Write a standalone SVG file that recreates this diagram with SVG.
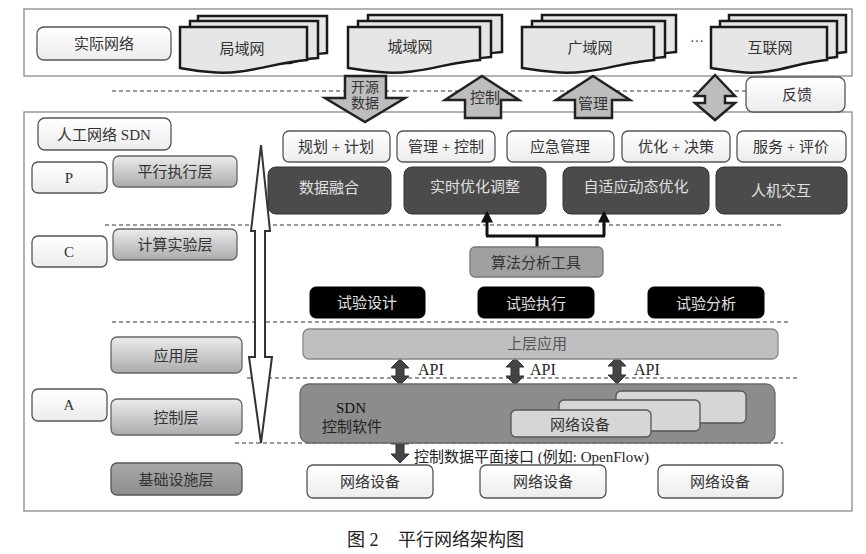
<svg xmlns="http://www.w3.org/2000/svg" width="866" height="554" viewBox="0 0 866 554">
<defs>
<linearGradient id="gl" x1="0" y1="0" x2="0" y2="1"><stop offset="0" stop-color="#ececec"/><stop offset="1" stop-color="#ababab"/></linearGradient>
<linearGradient id="gd" x1="0" y1="0" x2="0" y2="1"><stop offset="0" stop-color="#a8a8a8"/><stop offset="1" stop-color="#8e8e8e"/></linearGradient>
<linearGradient id="gw" x1="0" y1="0" x2="0" y2="1"><stop offset="0" stop-color="#ffffff"/><stop offset="1" stop-color="#ececec"/></linearGradient>
<marker id="ah" viewBox="0 0 10 10" refX="8" refY="5" markerWidth="4" markerHeight="4" orient="auto"><path d="M0 0L10 5L0 10Z" fill="#111"/></marker>
</defs>
<style>
text{font-family:"Liberation Serif","Noto Sans CJK SC",serif;font-size:15px;fill:#333;text-anchor:middle}
.frame{fill:#fff;stroke:#8a8a8a;stroke-width:1.3}
.wb{fill:url(#gw);stroke:#555;stroke-width:1.3}
.lb{fill:url(#gl);stroke:#666;stroke-width:1.3}
.db{fill:#4b4b4b;stroke:#333;stroke-width:1}
.db2{fill:#000;stroke:#000}
.dt{fill:#e0e0e0}
.doc{fill:#e6e6e6;stroke:#1a1a1a;stroke-width:2.5}
.dash{stroke:#333;stroke-width:1;stroke-dasharray:4 3;fill:none}
.garr{fill:#bdbdbd;stroke:#222;stroke-width:2.5}
.api{fill:#444;stroke:#333;stroke-width:1}
.nd{fill:#d6d6d6;stroke:#555;stroke-width:1.3}
.st{text-anchor:start}
</style>
<rect width="866" height="554" fill="#fff"/>

<!-- frames -->
<rect class="frame" x="24" y="9" width="828" height="67"/>
<rect class="frame" x="24" y="112" width="828" height="399"/>

<!-- dashed separators -->
<g id="separators">
<line class="dash" x1="112" y1="91" x2="746" y2="91"/>
<line class="dash" x1="105" y1="225" x2="783" y2="225"/>
<line class="dash" x1="112" y1="322" x2="790" y2="322"/>
<line class="dash" x1="247" y1="378" x2="797" y2="378"/>
<line class="dash" x1="235" y1="443" x2="783" y2="443"/>
</g>

<!-- real network -->
<g id="real-network"><rect class="wb" x="37" y="27" width="134" height="33" rx="7"/><text x="104" y="49">实际网络</text></g>

<g id="lan">
<path class="doc" d="M198 16H327V53C315 54 305 56 300 58H198Z"/>
<path class="doc" d="M190 21H318V58C306 59 296 61 290 63H190Z"/>
<path class="doc" d="M180 27H307V60C275 62 245 76 210 72C195 71 187 69 180 68Z"/>
<text x="242" y="54">局域网</text>
</g>
<g id="man">
<path class="doc" d="M368 15H502V52C490 53 480 55 475 57H368Z"/>
<path class="doc" d="M358 21H491V57C479 58 469 60 464 62H358Z"/>
<path class="doc" d="M348 27H480V60C447 62 416 76 380 72C364 71 355 69 348 68Z"/>
<text x="410" y="52">城域网</text>
</g>
<g id="wan">
<path class="doc" d="M542 15H676V52C664 53 654 55 649 57H542Z"/>
<path class="doc" d="M532 21H665V57C653 58 643 60 638 62H532Z"/>
<path class="doc" d="M522 27H654V60C621 62 590 76 554 72C538 71 529 69 522 68Z"/>
<text x="590" y="53">广域网</text>
</g>
<text x="697" y="42" style="font-size:14px">…</text>
<g id="internet">
<path class="doc" d="M729 15H846V52C835 53 826 55 822 57H729Z"/>
<path class="doc" d="M720 21H837V57C826 58 817 60 813 62H720Z"/>
<path class="doc" d="M711 27H827V60C798 62 771 76 740 72C726 71 718 69 711 68Z"/>
<text x="770" y="53">互联网</text>
</g>

<!-- interface arrows -->
<g id="arrow-open-data">
<path class="garr" d="M345 76H386V98H405L365 122L325 98H345Z"/>
<text x="365" y="92" style="font-size:14px">开源</text>
<text x="365" y="108" style="font-size:14px">数据</text>
</g>
<g id="arrow-control">
<path class="garr" d="M482 76L519 100H501V118H465V100H445Z"/>
<text x="485" y="103">控制</text>
</g>
<g id="arrow-manage">
<path class="garr" d="M593 76L630 100H612V118H575V100H556Z"/>
<text x="593" y="109">管理</text>
</g>
<g id="arrow-feedback">
<path class="garr" d="M715 75L735 96H725V103H735L715 120L695 103H705V96H695Z"/>
</g>
<g id="feedback"><rect class="wb" x="746" y="77" width="99" height="35" rx="7"/><text x="797" y="100">反馈</text></g>

<!-- left labels -->
<g id="sdn-label"><rect class="wb" x="38" y="118" width="133" height="32" rx="7"/><text x="104" y="140">人工网络 SDN</text></g>
<g id="P"><rect class="wb" x="32" y="162" width="75" height="31" rx="6"/><text x="69" y="183">P</text></g>
<g id="C"><rect class="wb" x="32" y="236" width="75" height="31" rx="6"/><text x="69" y="257">C</text></g>
<g id="A"><rect class="wb" x="32" y="389" width="75" height="32" rx="6"/><text x="69" y="410">A</text></g>
<g id="layer-p"><rect class="lb" x="113" y="156" width="124" height="31" rx="6"/><text x="175" y="177">平行执行层</text></g>
<g id="layer-c"><rect class="lb" x="113" y="229" width="124" height="31" rx="6"/><text x="175" y="250">计算实验层</text></g>
<g id="layer-app"><rect class="lb" x="111" y="337" width="131" height="36" rx="6"/><text x="176" y="361">应用层</text></g>
<g id="layer-ctrl"><rect class="lb" x="111" y="399" width="131" height="36" rx="6"/><text x="176" y="423">控制层</text></g>
<g id="layer-infra"><rect x="111" y="463" width="131" height="32" rx="6" fill="url(#gd)" stroke="#555" stroke-width="1.3"/><text x="176" y="485">基础设施层</text></g>

<!-- big hollow double arrow -->
<g id="big-arrow"><path d="M261 145L270 231H265V357H272L261 443L249 357H255V231H251Z" fill="#fff" stroke="#333" stroke-width="2"/></g>

<!-- top function boxes -->
<g id="f1"><rect class="wb" x="283" y="131" width="107" height="31" rx="6"/><text x="336" y="152" xml:space="preserve">规划 + 计划</text></g>
<g id="f2"><rect class="wb" x="397" y="131" width="98" height="31" rx="6"/><text x="446" y="152">管理 + 控制</text></g>
<g id="f3"><rect class="wb" x="507" y="131" width="107" height="31" rx="6"/><text x="560" y="152">应急管理</text></g>
<g id="f4"><rect class="wb" x="622" y="131" width="108" height="31" rx="6"/><text x="676" y="152">优化 + 决策</text></g>
<g id="f5"><rect class="wb" x="737" y="131" width="109" height="31" rx="6"/><text x="791" y="152">服务 + 评价</text></g>

<!-- dark boxes -->
<g id="d1"><rect class="db" x="268" y="167" width="123" height="47" rx="8"/><text class="dt" x="329" y="193">数据融合</text></g>
<g id="d2"><rect class="db" x="404" y="167" width="142" height="47" rx="8"/><text class="dt" x="475" y="192">实时优化调整</text></g>
<g id="d3"><rect class="db" x="563" y="167" width="146" height="47" rx="8"/><text class="dt" x="636" y="192">自适应动态优化</text></g>
<g id="d4"><rect class="db" x="716" y="167" width="131" height="47" rx="8"/><text class="dt" x="781" y="196">人机交互</text></g>

<!-- connectors -->
<g id="connectors">
<path d="M537 248V236M486 236H605" stroke="#111" stroke-width="3" fill="none"/>
<path d="M487 236V213" stroke="#111" stroke-width="3" fill="none" marker-end="url(#ah)"/>
<path d="M604 236V213" stroke="#111" stroke-width="3" fill="none" marker-end="url(#ah)"/>
<path class="api" d="M400 359L409 368H404V376H409L400 385L391 376H396V368H391Z"/>
<path class="api" d="M515 358L524 367H519V376H524L515 385L506 376H511V367H506Z"/>
<path class="api" d="M617 357L626 366H621V375H626L617 384L608 375H613V366H608Z"/>
<path class="api" d="M400 435L409 444H404V454H409L400 463L391 454H396V444H391Z"/>
</g>
<g id="algo"><rect x="470" y="247" width="133" height="30" rx="5" fill="#a0a0a0" stroke="#777" stroke-width="1.3"/><text x="536" y="268">算法分析工具</text></g>

<!-- experiment boxes -->
<g id="e1"><rect class="db2" x="310" y="287" width="115" height="31" rx="6"/><text class="dt" x="367" y="308">试验设计</text></g>
<g id="e2"><rect class="db2" x="478" y="287" width="116" height="31" rx="6"/><text class="dt" x="536" y="309">试验执行</text></g>
<g id="e3"><rect class="db2" x="648" y="287" width="116" height="31" rx="6"/><text class="dt" x="706" y="309">试验分析</text></g>

<!-- upper app -->
<g id="upper-app"><rect x="303" y="329" width="475" height="30" rx="6" fill="#bfbfbf" stroke="#888" stroke-width="1.3"/><text x="537" y="349" style="fill:#555">上层应用</text></g>
<text class="st" x="418" y="375" style="font-size:16px;fill:#222">API</text>
<text class="st" x="530" y="375" style="font-size:16px;fill:#222">API</text>
<text class="st" x="634" y="375" style="font-size:16px;fill:#222">API</text>

<!-- SDN controller -->
<g id="sdn-ctrl">
<rect x="300" y="384" width="475" height="59" rx="9" fill="#8c8c8c" stroke="#6a6a6a" stroke-width="1.3"/>
<text x="351" y="413" style="fill:#111">SDN</text>
<text x="352" y="432" style="fill:#222">控制软件</text>
<rect class="nd" x="616" y="391" width="130" height="32" rx="5" fill="#dcdcdc"/>
<rect class="nd" x="559" y="400" width="141" height="31" rx="5"/>
<rect class="nd" x="511" y="410" width="140" height="27" rx="5" fill="#d9d9d9"/>
<text x="580" y="430">网络设备</text>
</g>
<text class="st" x="414" y="462" style="fill:#222">控制数据平面接口 (例如: OpenFlow)</text>

<!-- devices -->
<g id="dev1"><rect class="wb" x="307" y="465" width="126" height="33" rx="6"/><text x="370" y="487">网络设备</text></g>
<g id="dev2"><rect class="wb" x="480" y="465" width="126" height="33" rx="6"/><text x="543" y="487">网络设备</text></g>
<g id="dev3"><rect class="wb" x="658" y="465" width="125" height="33" rx="6"/><text x="720" y="487">网络设备</text></g>

<text class="st" x="347" y="546" style="font-size:18px;fill:#222">图 2</text>
<text class="st" x="398" y="546" style="font-size:18px;fill:#222">平行网络架构图</text>
</svg>
